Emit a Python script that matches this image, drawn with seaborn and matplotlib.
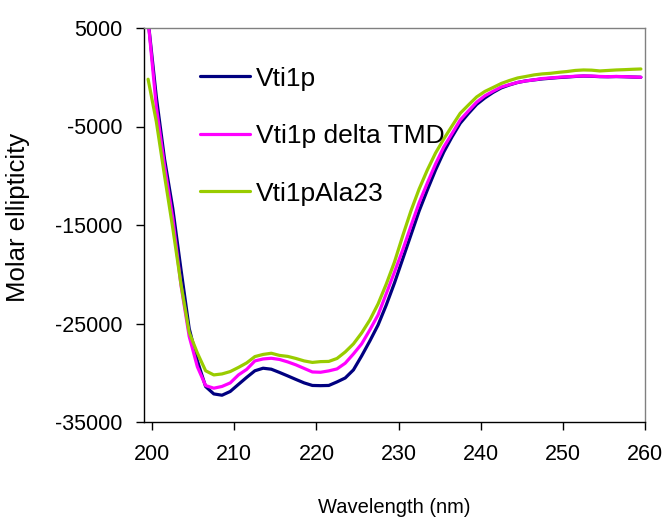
import numpy as np
import pandas as pd
import matplotlib
matplotlib.use("Agg")
import matplotlib.pyplot as plt
import seaborn as sns

# CD spectra, one point per nm (199.5 ... 259.5 nm)
wavelength = np.arange(199.5, 260.0, 1.0)

vti1p = [5800, -2000, -8300, -13300, -19500, -25500, -28800, -31400, -32150, -32280,
         -31900, -31180, -30470, -29800, -29540, -29640, -29970, -30320, -30680, -31030,
         -31290, -31310, -31290, -30930, -30530, -29710, -28290, -26770, -25150, -23120,
         -20880, -18450, -16010, -13570, -11440, -9410, -7590, -6060, -4670, -3680,
         -2760, -2100, -1540, -1080, -780, -530, -370, -270, -170, -100,
         -30, 20, 80, 120, 100, 60, 50, 70, 50, 20, 0]

vti1p_dtmd = [5800, -3000, -9000, -14300, -21100, -26300, -29400, -31300, -31570, -31390,
              -31030, -30220, -29660, -28800, -28600, -28530, -28650, -28900, -29200, -29560,
              -29920, -29950, -29810, -29610, -29030, -28090, -27070, -25650, -24130, -21970,
              -19770, -17530, -15100, -12740, -10730, -8800, -7080, -5720, -4340, -3420,
              -2530, -1880, -1420, -990, -745, -520, -370, -260, -130, -70,
              0, 50, 100, 130, 120, 80, 60, 80, 60, 30, 0]

vti1p_ala23 = [-200, -4500, -10000, -15300, -21000, -25900, -28000, -29800, -30220, -30120,
               -29880, -29460, -29000, -28360, -28140, -28020, -28240, -28340, -28550, -28800,
               -28950, -28870, -28850, -28550, -27890, -27070, -25960, -24640, -23010, -20990,
               -18750, -16100, -13570, -11340, -9410, -7690, -6270, -4950, -3660, -2820,
               -2000, -1440, -1040, -630, -330, -70, 80, 240, 340, 400,
               500, 580, 690, 740, 720, 640, 690, 740, 770, 810, 840]

labels = ["Vti1p", "Vti1p delta TMD", "Vti1pAla23"]
colors = ["#000080", "#FF00FF", "#99CC00"]

df = pd.DataFrame({
    "Wavelength": np.tile(wavelength, 3),
    "Ellipticity": vti1p + vti1p_dtmd + vti1p_ala23,
    "Sample": np.repeat(labels, len(wavelength)),
})

sns.set_style("ticks")
plt.rcParams["font.family"] = ["Liberation Sans", "DejaVu Sans"]
plt.rcParams["axes.unicode_minus"] = False
plt.rcParams["text.color"] = "black"
plt.rcParams["axes.labelcolor"] = "black"

fig = plt.figure(figsize=(6.64, 5.27), dpi=100)
ax = fig.add_axes([144 / 664, 1 - 422 / 527, 501 / 664, 394 / 527])

sns.lineplot(data=df, x="Wavelength", y="Ellipticity", hue="Sample",
             palette=dict(zip(labels, colors)), linewidth=2.3, ax=ax,
             estimator=None, sort=False)

ax.set_xlim(199, 260)
ax.set_ylim(-35000, 5000)
ax.set_xticks(range(200, 261, 10))
ax.set_yticks(range(-35000, 5001, 10000))

for side in ["left", "bottom"]:
    ax.spines[side].set_color("black")
    ax.spines[side].set_linewidth(1.0)
for side in ["top", "right"]:
    ax.spines[side].set_visible(True)
    ax.spines[side].set_color("#808080")
    ax.spines[side].set_linewidth(1.0)

ax.tick_params(axis="both", direction="out", length=6, width=1, colors="black",
               labelsize=15.5, pad=9.5)

ax.set_xlabel("Wavelength (nm)", fontsize=14.5, color="black")
ax.set_ylabel("Molar ellipticity", fontsize=18.5, color="black")
ax.xaxis.set_label_coords(0.5, -0.194)
ax.yaxis.set_label_coords(-0.2275, 0.52)

leg = ax.legend(frameon=False, fontsize=19, loc="upper left",
                bbox_to_anchor=(0.112, 0.902), borderpad=0, borderaxespad=0,
                handlelength=1.9, handletextpad=0.2, labelspacing=1.27)
for t in leg.get_texts():
    t.set_color("black")

fig.savefig("out.png", dpi=100)
